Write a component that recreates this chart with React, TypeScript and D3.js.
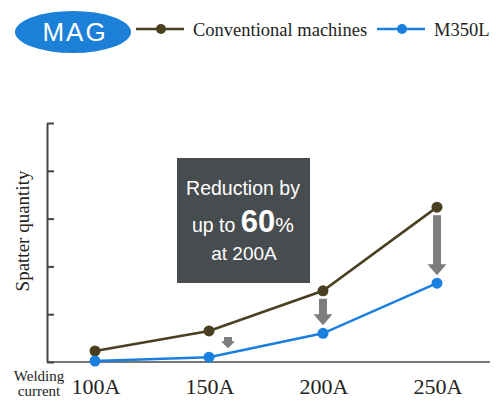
import React, { useEffect, useRef } from "react";
import * as d3 from "d3";

const currents = ["100A", "150A", "200A", "250A"];
const conventional = [0.23, 0.65, 1.49, 3.24];
const m350l = [0.02, 0.1, 0.6, 1.65];
const yTicks = [0, 1, 2, 3, 4, 5];
const calloutLines = ["Reduction by", "up to ", "at 200A"];

const BROWN = "#4a3f20";
const BLUE = "#1a80e0";
const SERIF = "Liberation Serif, Times New Roman, serif";
const SANS = "Liberation Sans, Arial, sans-serif";

function drawChart(svgEl: SVGSVGElement) {
    const svg = d3.select(svgEl);
    svg.selectAll("*").remove();

    const x = d3.scalePoint<string>().domain(currents).range([95, 437]);
    const y = d3.scaleLinear().domain([0, 5]).range([362, 123]);

    // legend
    const lg = svg.append("g");
    lg.append("ellipse").attr("cx", 73).attr("cy", 32).attr("rx", 58).attr("ry", 21).attr("fill", "#1c7fd8");
    lg.append("text").attr("x", 75).attr("y", 41).attr("text-anchor", "middle")
        .attr("font-family", SANS).attr("font-size", 26).attr("letter-spacing", 2)
        .attr("fill", "#fff").text("MAG");
    const legendItems = [
        { name: "Conventional machines", color: BROWN, x0: 136 },
        { name: "M350L", color: BLUE, x0: 377 },
    ];
    legendItems.forEach((it) => {
        lg.append("line").attr("x1", it.x0).attr("x2", it.x0 + 48).attr("y1", 29).attr("y2", 29)
            .attr("stroke", it.color).attr("stroke-width", 2.5);
        lg.append("circle").attr("cx", it.x0 + 25).attr("cy", 29).attr("r", 5).attr("fill", it.color);
        lg.append("text").attr("x", it.x0 + 57).attr("y", 36)
            .attr("font-family", SERIF).attr("font-size", 18.5)
            .attr("fill", "#222").text(it.name);
    });

    // axes
    svg.append("line").attr("x1", 47).attr("x2", 490).attr("y1", y(0)).attr("y2", y(0))
        .attr("stroke", "#777").attr("stroke-width", 2);
    svg.append("g")
        .attr("transform", "translate(47,0)")
        .call(d3.axisRight(y).tickValues(yTicks).tickSize(7).tickSizeOuter(0).tickFormat(() => ""))
        .call((g) => g.selectAll("path,line").attr("stroke", "#444").attr("stroke-width", 2));

    svg.append("text").attr("transform", "translate(29,231) rotate(-90)").attr("text-anchor", "middle")
        .attr("font-family", SERIF).attr("font-size", 19)
        .attr("fill", "#222").text("Spatter quantity");

    svg.append("g").selectAll("text").data(currents).enter().append("text")
        .attr("x", (d) => x(d)! + 1).attr("y", 394).attr("text-anchor", "middle")
        .attr("font-family", SERIF).attr("font-size", 22)
        .attr("fill", "#222").text((d) => d);
    [["Welding", 381], ["current", 396]].forEach(([t, yy]) => {
        svg.append("text").attr("x", 39).attr("y", yy as number).attr("text-anchor", "middle")
            .attr("font-family", SERIF).attr("font-size", 15)
            .attr("fill", "#222").text(t as string);
    });

    // callout box
    svg.append("rect").attr("x", 177).attr("y", 158).attr("width", 133).attr("height", 125).attr("fill", "#474c4f");
    const ct = svg.append("g").attr("fill", "#fff").attr("font-family", SANS).attr("text-anchor", "middle");
    ct.append("text").attr("x", 243).attr("y", 195).attr("font-size", 19.5).text(calloutLines[0]);
    const l2 = ct.append("text").attr("x", 243).attr("y", 232).attr("font-size", 19.5);
    l2.append("tspan").text(calloutLines[1]);
    l2.append("tspan").attr("font-size", 31).attr("font-weight", "bold").text("60");
    l2.append("tspan").attr("font-size", 21).text("%");
    ct.append("text").attr("x", 244).attr("y", 260).attr("font-size", 19).text(calloutLines[2]);

    // arrows
    const arrowCats = [1, 2, 3];
    arrowCats.forEach((i) => {
        const small = i === 1;
        const cx = x(currents[i])! + (small ? 19 : 0);
        const top = y(conventional[i]) + (small ? 6 : 8);
        const bottom = y(m350l[i]) - (small ? 9 : 8);
        const headLen = small ? 7 : 11;
        const sw = 4;
        const hw = small ? 7 : 9.5;
        const pts: [number, number][] = [
            [cx - sw, top], [cx + sw, top], [cx + sw, bottom - headLen], [cx + hw, bottom - headLen],
            [cx, bottom], [cx - hw, bottom - headLen], [cx - sw, bottom - headLen],
        ];
        svg.append("polygon").attr("points", pts.map((p) => p.join(",")).join(" "))
            .attr("fill", "#7d7d7d");
    });

    // lines
    const series = [
        { vals: conventional, color: BROWN },
        { vals: m350l, color: BLUE },
    ];
    const line = d3.line<number>().x((_, i) => x(currents[i])!).y((d) => y(d));
    series.forEach((s) => {
        svg.append("path").datum(s.vals).attr("d", line).attr("fill", "none")
            .attr("stroke", s.color).attr("stroke-width", 2.5);
        svg.selectAll(null).data(s.vals).enter().append("circle")
            .attr("cx", (_, i) => x(currents[i])!).attr("cy", (d) => y(d)).attr("r", 5.5)
            .attr("fill", s.color);
    });
}

export default function App() {
    const ref = useRef<SVGSVGElement>(null);
    useEffect(() => {
        document.body.style.margin = "0";
        if (ref.current) drawChart(ref.current);
    }, []);
    return <svg ref={ref} width={496} height={405} style={{ display: "block", background: "#fff" }} />;
}
